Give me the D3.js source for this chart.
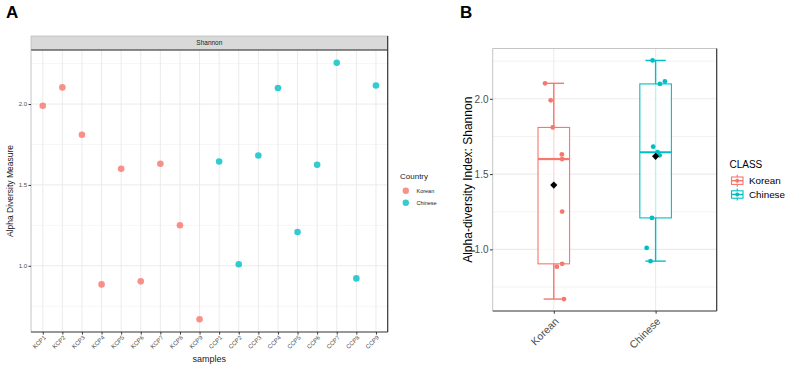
<!DOCTYPE html>
<html><head><meta charset="utf-8">
<script src="https://cdn.jsdelivr.net/npm/d3@7"></script>
<style>body{margin:0;background:#fff}svg{display:block;font-family:"Liberation Sans",Arial,sans-serif}</style>
</head><body><svg id="c" width="787" height="368"></svg>
<script>
const samples = ["KCP1","KCP2","KCP3","KCP4","KCP5","KCP6","KCP7","KCP8","KCP9","CCP1","CCP2","CCP3","CCP4","CCP5","CCP6","CCP7","CCP8","CCP9"];
const country = ["Korean","Korean","Korean","Korean","Korean","Korean","Korean","Korean","Korean","Chinese","Chinese","Chinese","Chinese","Chinese","Chinese","Chinese","Chinese","Chinese"];
const shannon = [1.99,2.103,1.81,0.885,1.60,0.904,1.631,1.251,0.67,1.645,1.01,1.682,2.099,1.209,1.625,2.255,0.922,2.115];
// horizontal jitter in panel B, as fraction of category step
const jitter = [-0.03,-0.086,-0.01,0.03,0.082,0.082,0.079,0.082,0.10,0.02,-0.088,-0.024,0.042,-0.036,0.04,-0.03,-0.05,0.091];
const classes = ["Korean","Chinese"];
const colors = ["#F8766D","#00BFC4"];
const yTicks = [1.0,1.5,2.0];
const yMinor = [0.75,1.25,1.75,2.25];

const svg = d3.select("#c");
const col = d3.scaleOrdinal().domain(classes).range(colors);
const ext = d3.extent(shannon), pad = (ext[1]-ext[0])*0.05;
const yDom = [ext[0]-pad, ext[1]+pad];
const GRID = "#ebebeb", DARK = "#333333", TXT = "#4d4d4d";

// ---------- Panel A ----------
const A = {l:31, r:387.7, st:36, t:50, b:332};
const xA = d3.scalePoint().domain(samples).range([A.l, A.r]).padding(0.6);
const yA = d3.scaleLinear().domain(yDom).range([A.b, A.t]);
const gA = svg.append("g");
gA.append("rect").attr("x",A.l).attr("y",A.t).attr("width",A.r-A.l).attr("height",A.b-A.t).attr("fill","#fff");
gA.selectAll(".mn").data(yMinor).join("line").attr("x1",A.l).attr("x2",A.r).attr("y1",d=>yA(d)).attr("y2",d=>yA(d)).attr("stroke",GRID).attr("stroke-width",0.5);
gA.selectAll(".mj").data(yTicks).join("line").attr("x1",A.l).attr("x2",A.r).attr("y1",d=>yA(d)).attr("y2",d=>yA(d)).attr("stroke",GRID).attr("stroke-width",1);
gA.selectAll(".vx").data(samples).join("line").attr("x1",d=>xA(d)).attr("x2",d=>xA(d)).attr("y1",A.t).attr("y2",A.b).attr("stroke",GRID).attr("stroke-width",1);
// strip
gA.append("rect").attr("x",A.l).attr("y",A.st).attr("width",A.r-A.l).attr("height",A.t-A.st).attr("fill","#d9d9d9").attr("stroke","#b0b0b0").attr("stroke-width",0.6);
gA.append("line").attr("x1",A.l).attr("x2",A.r).attr("y1",A.t).attr("y2",A.t).attr("stroke",DARK).attr("stroke-width",1.2);
gA.append("line").attr("x1",A.r).attr("x2",A.r).attr("y1",A.st).attr("y2",A.t).attr("stroke",DARK).attr("stroke-width",1.2);
gA.append("text").attr("x",(A.l+A.r)/2).attr("y",(A.st+A.t)/2+2.3).attr("text-anchor","middle").attr("font-size",6.5).attr("fill","#1a1a1a").text("Shannon");
// panel borders
gA.append("line").attr("x1",A.l).attr("x2",A.l).attr("y1",A.t).attr("y2",A.b).attr("stroke","#b5b5b5").attr("stroke-width",0.8);
gA.append("line").attr("x1",A.r).attr("x2",A.r).attr("y1",A.t).attr("y2",A.b).attr("stroke",DARK).attr("stroke-width",1.2);
gA.append("line").attr("x1",A.l).attr("x2",A.r).attr("y1",A.b).attr("y2",A.b).attr("stroke",DARK).attr("stroke-width",1.2);
// axes
const axYA = gA.append("g").attr("transform",`translate(${A.l},0)`).call(d3.axisLeft(yA).tickValues(yTicks).tickFormat(d3.format(".1f")).tickSize(2.5).tickPadding(1.5));
axYA.select(".domain").remove();
axYA.selectAll("line").attr("stroke",DARK);
axYA.selectAll("text").attr("font-size",6).attr("fill",TXT).attr("font-family","Liberation Sans, Arial");
const axXA = gA.append("g").attr("transform",`translate(0,${A.b})`).call(d3.axisBottom(xA).tickSize(2.5));
axXA.select(".domain").remove();
axXA.selectAll("line").attr("stroke",DARK);
axXA.selectAll("text").attr("font-size",6).attr("fill",TXT).attr("font-family","Liberation Sans, Arial")
  .attr("text-anchor","end").attr("x",0).attr("y",0).attr("dy",0).attr("transform","translate(3,6) rotate(-45)");
// points
gA.selectAll(".pt").data(shannon).join("circle").attr("cx",(d,i)=>xA(samples[i])).attr("cy",d=>yA(d)).attr("r",3.3)
  .attr("fill",(d,i)=>col(country[i])).attr("opacity",0.8);
// titles
gA.append("text").attr("x",(A.l+A.r)/2).attr("y",362).attr("text-anchor","middle").attr("font-size",9).attr("fill","#1a1a1a").text("samples");
gA.append("text").attr("transform",`translate(13,${(A.t+A.b)/2}) rotate(-90)`).attr("text-anchor","middle").attr("font-size",8.5).attr("fill","#1a1a1a").text("Alpha Diversity Measure");
gA.append("text").attr("x",6).attr("y",17.5).attr("font-size",17).attr("font-weight","bold").attr("fill","#000").text("A");
// legend A
gA.append("text").attr("x",400).attr("y",178.5).attr("font-size",8).attr("fill","#1a1a1a").text("Country");
classes.forEach((c,i)=>{
  const yy = 190.7 + i*12;
  gA.append("circle").attr("cx",405.8).attr("cy",yy).attr("r",3.2).attr("fill",col(c)).attr("opacity",0.8);
  gA.append("text").attr("x",416.5).attr("y",yy+2).attr("font-size",5.5).attr("fill","#1a1a1a").text(c);
});

// ---------- Panel B ----------
const B = {l:492.7, r:716.7, t:48.5, b:311};
const xB = d3.scalePoint().domain(classes).range([B.l, B.r]).padding(0.6);
const yB = d3.scaleLinear().domain(yDom).range([B.b, B.t]);
const step = xB.step();
const gB = svg.append("g");
gB.selectAll(".mn").data(yMinor).join("line").attr("x1",B.l).attr("x2",B.r).attr("y1",d=>yB(d)).attr("y2",d=>yB(d)).attr("stroke",GRID).attr("stroke-width",0.6);
gB.selectAll(".mj").data(yTicks).join("line").attr("x1",B.l).attr("x2",B.r).attr("y1",d=>yB(d)).attr("y2",d=>yB(d)).attr("stroke",GRID).attr("stroke-width",1.1);
gB.selectAll(".vx").data(classes).join("line").attr("x1",d=>xB(d)).attr("x2",d=>xB(d)).attr("y1",B.t).attr("y2",B.b).attr("stroke",GRID).attr("stroke-width",1.1);
gB.append("line").attr("x1",B.l).attr("x2",B.r).attr("y1",B.t).attr("y2",B.t).attr("stroke","#b5b5b5").attr("stroke-width",0.8);
gB.append("line").attr("x1",B.l).attr("x2",B.l).attr("y1",B.t).attr("y2",B.b).attr("stroke","#b5b5b5").attr("stroke-width",0.8);
gB.append("line").attr("x1",B.r).attr("x2",B.r).attr("y1",B.t).attr("y2",B.b).attr("stroke",DARK).attr("stroke-width",1.2);
gB.append("line").attr("x1",B.l).attr("x2",B.r).attr("y1",B.b).attr("y2",B.b).attr("stroke",DARK).attr("stroke-width",1.2);

const boxW = 0.31*step, capW = 0.2*step;
classes.forEach(c=>{
  const vals = shannon.filter((d,i)=>country[i]===c).sort(d3.ascending);
  const q1 = d3.quantile(vals,0.25), med = d3.quantile(vals,0.5), q3 = d3.quantile(vals,0.75);
  const iqr = q3-q1;
  const lo = d3.min(vals.filter(v=>v>=q1-1.5*iqr)), hi = d3.max(vals.filter(v=>v<=q3+1.5*iqr));
  const mean = d3.mean(vals);
  const cx = xB(c), k = col(c);
  const g = gB.append("g");
  g.append("line").attr("x1",cx).attr("x2",cx).attr("y1",yB(lo)).attr("y2",yB(hi)).attr("stroke",k).attr("stroke-width",1.4);
  [lo,hi].forEach(v=>g.append("line").attr("x1",cx-capW/2).attr("x2",cx+capW/2).attr("y1",yB(v)).attr("y2",yB(v)).attr("stroke",k).attr("stroke-width",1.4));
  g.append("rect").attr("x",cx-boxW/2).attr("y",yB(q3)).attr("width",boxW).attr("height",yB(q1)-yB(q3))
    .attr("fill","#fff").attr("fill-opacity",0.75).attr("stroke",k).attr("stroke-width",1.1);
  g.append("line").attr("x1",cx-boxW/2).attr("x2",cx+boxW/2).attr("y1",yB(med)).attr("y2",yB(med)).attr("stroke",k).attr("stroke-width",2.2);
  shannon.forEach((d,i)=>{ if(country[i]!==c) return;
    g.append("circle").attr("cx",cx+jitter[i]*step).attr("cy",yB(d)).attr("r",2.4).attr("fill",k);
  });
  const s = 3.6;
  g.append("path").attr("d",`M${cx},${yB(mean)-s}L${cx+s},${yB(mean)}L${cx},${yB(mean)+s}L${cx-s},${yB(mean)}Z`).attr("fill","#000");
});
const axYB = gB.append("g").attr("transform",`translate(${B.l},0)`).call(d3.axisLeft(yB).tickValues(yTicks).tickFormat(d3.format(".1f")).tickSize(2.7).tickPadding(1.5));
axYB.select(".domain").remove();
axYB.selectAll("line").attr("stroke",DARK);
axYB.selectAll("text").attr("font-size",10).attr("fill",TXT).attr("font-family","Liberation Sans, Arial");
const axXB = gB.append("g").attr("transform",`translate(0,${B.b})`).call(d3.axisBottom(xB).tickSize(2.7));
axXB.select(".domain").remove();
axXB.selectAll("line").attr("stroke",DARK);
axXB.selectAll("text").attr("font-size",10.5).attr("fill",TXT).attr("font-family","Liberation Sans, Arial")
  .attr("text-anchor","end").attr("x",0).attr("y",0).attr("dy",0).attr("transform","translate(5,11) rotate(-45)");
gB.append("text").attr("transform",`translate(472,${(B.t+B.b)/2}) rotate(-90)`).attr("text-anchor","middle").attr("font-size",12).attr("fill","#000").text("Alpha-diversity Index: Shannon");
gB.append("text").attr("x",460).attr("y",17.5).attr("font-size",17).attr("font-weight","bold").attr("fill","#000").text("B");
// legend B
gB.append("text").attr("x",729.5).attr("y",167.5).attr("font-size",10).attr("fill","#000").text("CLASS");
classes.forEach((c,i)=>{
  const yy = 180.7 + i*13.8, k = col(c), x0 = 731.5, w = 11.5;
  const lg = gB.append("g");
  lg.append("line").attr("x1",x0+w/2).attr("x2",x0+w/2).attr("y1",yy-6).attr("y2",yy+6).attr("stroke",k).attr("stroke-width",1.2);
  lg.append("rect").attr("x",x0).attr("y",yy-3.7).attr("width",w).attr("height",7.4).attr("fill","#fff").attr("fill-opacity",0.75).attr("stroke",k).attr("stroke-width",1.1);
  lg.append("line").attr("x1",x0).attr("x2",x0+w).attr("y1",yy).attr("y2",yy).attr("stroke",k).attr("stroke-width",1.5);
  lg.append("circle").attr("cx",x0+w/2).attr("cy",yy).attr("r",2).attr("fill",k);
  lg.append("text").attr("x",749).attr("y",yy+3.7).attr("font-size",9.8).attr("fill","#000").text(c);
});
</script></body></html>
